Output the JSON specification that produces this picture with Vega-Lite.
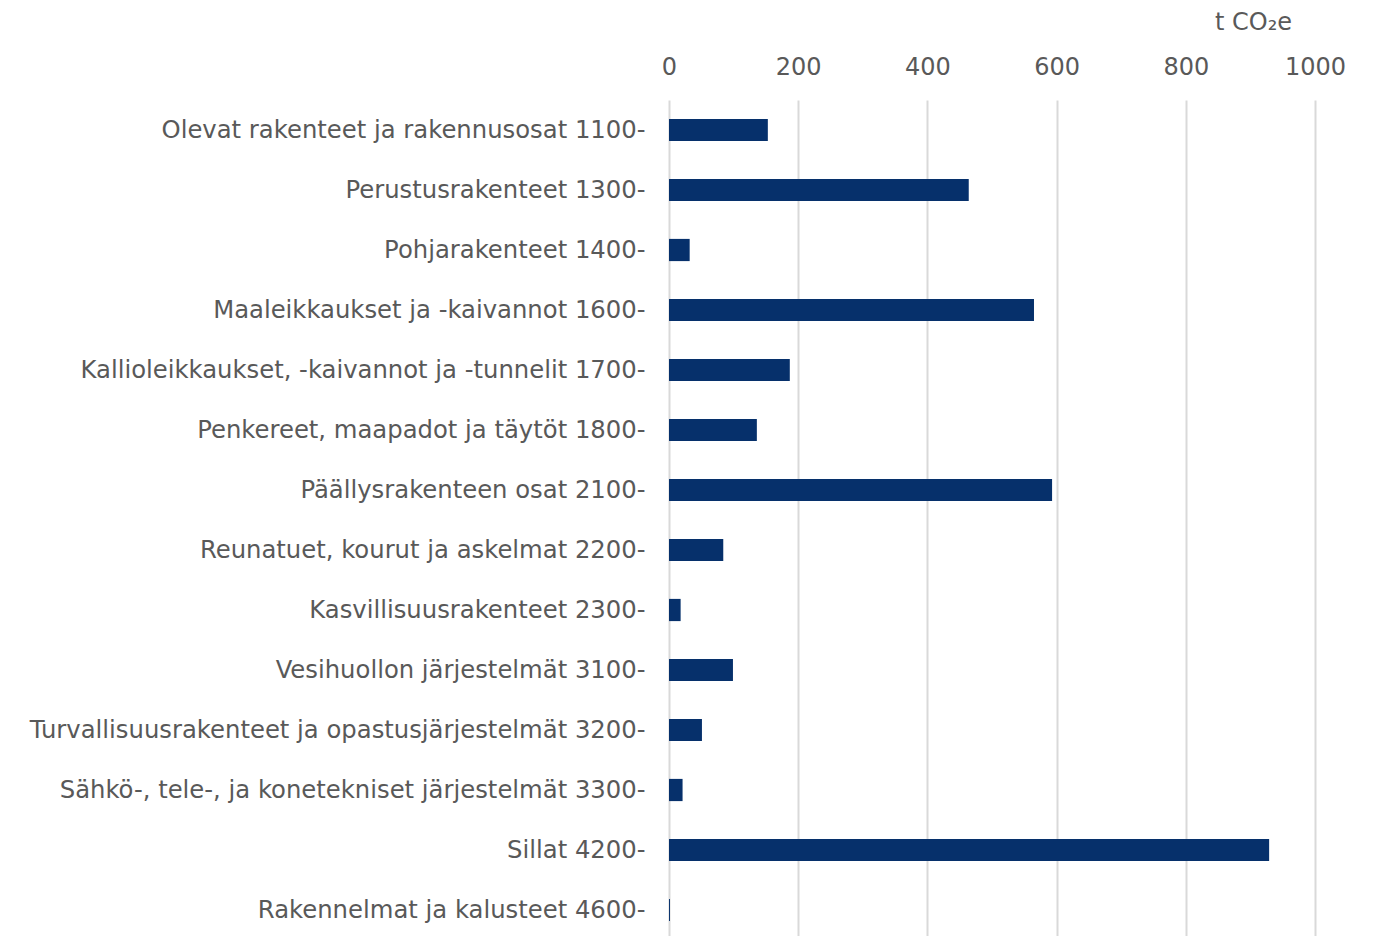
{
  "$schema": "https://vega.github.io/schema/vega-lite/v6.json",
  "autosize": {"type": "none"},
  "width": 646,
  "height": 840,
  "padding": {"left": 669, "top": 100, "right": 58, "bottom": 0},
  "background": "white",
  "config": {
    "view": {"stroke": null},
    "font": "DejaVu Sans"
  },
  "data": {
    "values": [
      {"category": "Olevat rakenteet ja rakennusosat 1100-", "value": 153},
      {"category": "Perustusrakenteet 1300-", "value": 464},
      {"category": "Pohjarakenteet 1400-", "value": 32},
      {"category": "Maaleikkaukset ja -kaivannot 1600-", "value": 565},
      {"category": "Kallioleikkaukset, -kaivannot ja -tunnelit 1700-", "value": 187},
      {"category": "Penkereet, maapadot ja täytöt 1800-", "value": 136},
      {"category": "Päällysrakenteen osat 2100-", "value": 593},
      {"category": "Reunatuet, kourut ja askelmat 2200-", "value": 84},
      {"category": "Kasvillisuusrakenteet 2300-", "value": 18},
      {"category": "Vesihuollon järjestelmät 3100-", "value": 99},
      {"category": "Turvallisuusrakenteet ja opastusjärjestelmät 3200-", "value": 51},
      {"category": "Sähkö-, tele-, ja konetekniset järjestelmät 3300-", "value": 21},
      {"category": "Sillat 4200-", "value": 929},
      {"category": "Rakennelmat ja kalusteet 4600-", "value": 1.5}
    ]
  },
  "mark": {"type": "bar", "color": "#06306b"},
  "encoding": {
    "y": {
      "field": "category",
      "type": "nominal",
      "sort": null,
      "scale": {"paddingInner": 0.63, "paddingOuter": 0.315},
      "axis": {
        "title": null,
        "ticks": false,
        "domain": false,
        "labelPadding": 24,
        "labelOffset": 1,
        "labelFontSize": 24.3,
        "labelColor": "#595959",
        "labelLimit": 700
      }
    },
    "x": {
      "field": "value",
      "type": "quantitative",
      "scale": {"domain": [0, 1000], "nice": false},
      "axis": {
        "orient": "top",
        "values": [0, 200, 400, 600, 800, 1000],
        "format": "d",
        "labelFlush": false,
        "title": "t CO₂e",
        "titleFontSize": 24,
        "titleFontWeight": "normal",
        "titleColor": "#595959",
        "titleX": 584,
        "titleY": -78,
        "titleAlign": "center",
        "titleBaseline": "middle",
        "ticks": false,
        "domain": false,
        "labelPadding": 21,
        "labelFontSize": 24,
        "labelColor": "#595959",
        "grid": true,
        "gridColor": "#d9d9d9",
        "gridWidth": 2
      }
    }
  }
}
